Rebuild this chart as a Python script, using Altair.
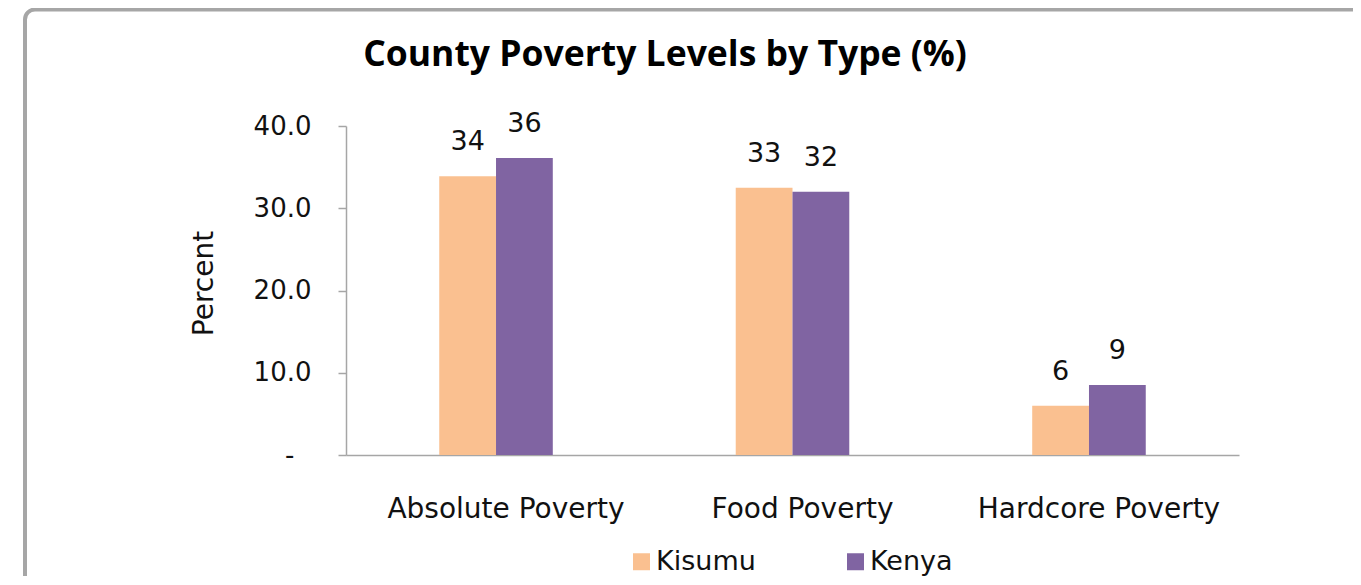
import altair as alt
import pandas as pd

categories = ["Absolute Poverty", "Food Poverty", "Hardcore Poverty"]
kisumu = [33.9, 32.5, 6.0]
kenya = [36.1, 32.0, 8.5]
series = ["Kisumu", "Kenya"]
colors = ["#FAC090", "#8064A2"]
y_ticks = [0, 10, 20, 30, 40]

rows = []
for c, a, b in zip(categories, kisumu, kenya):
    rows.append({"Category": c, "Region": "Kisumu", "value": a})
    rows.append({"Category": c, "Region": "Kenya", "value": b})
df = pd.DataFrame(rows)

FONT = "DejaVu Sans"
W, H = 893, 329

x_enc = alt.X(
    "Category:N",
    sort=categories,
    scale=alt.Scale(paddingInner=0.617, paddingOuter=0.3145),
    axis=alt.Axis(
        title=None, labelAngle=0, ticks=False, labelPadding=40, labelLimit=0,
        labelOffset=10,
        labelFontSize=28, labelFont=FONT, labelColor="#111111",
        domainColor="#A6A6A6", domainWidth=1.5,
    ),
)
xo_enc = alt.XOffset("Region:N", sort=series, scale=alt.Scale(paddingInner=0, paddingOuter=0))
y_enc = alt.Y(
    "value:Q",
    scale=alt.Scale(domain=[0, 40], nice=False),
    axis=alt.Axis(
        title="Percent", values=y_ticks, grid=False,
        labelExpr="datum.value == 0 ? '-' : format(datum.value, '.1f')",
        labelFontSize=26, labelFont=FONT, labelColor="#111111",
        labelPadding={"condition": {"test": "datum.value == 0", "value": 44}, "value": 27},
        tickSize=8, tickColor="#A6A6A6", tickWidth=1.5,
        domainColor="#A6A6A6", domainWidth=1.5,
        titleFont=FONT, titleFontSize=28, titleFontWeight="normal", titleColor="#111111",
        titleAngle=270, titleBaseline="alphabetic", titleAlign="center",
        titleX=-134, titleY=157,
    ),
)

bars = alt.Chart(df).mark_bar().encode(
    x=x_enc,
    xOffset=xo_enc,
    y=y_enc,
    color=alt.Color(
        "Region:N",
        sort=series,
        scale=alt.Scale(domain=series, range=colors),
        legend=alt.Legend(
            title=None, orient="none", legendX=282, legendY=422,
            direction="horizontal", symbolType="square", symbolSize=289,
            symbolStrokeWidth=0, labelFontSize=27, labelFont=FONT,
            labelColor="#111111", labelOffset=1, columnPadding=86, padding=0,
        ),
    ),
)

labels = alt.Chart(df).transform_calculate(
    label="round(datum.value)"
).mark_text(
    baseline="alphabetic", dy=-26, fontSize=27, font=FONT, color="#111111"
).encode(
    x=alt.X("Category:N", sort=categories),
    xOffset=alt.XOffset("Region:N", sort=series),
    y="value:Q",
    text=alt.Text("label:Q", format=".0f"),
)

frame = alt.Chart(alt.Data(values=[{}])).mark_rect(
    filled=False, stroke="#A6A6A6", strokeWidth=4, cornerRadius=10
).encode(
    x=alt.value(-321), x2=alt.value(1100), y=alt.value(-116.5), y2=alt.value(600)
)

chart = alt.layer(frame, bars, labels).properties(
    width=W, height=H,
    autosize=alt.AutoSizeParams(type="none"),
    padding={"left": 338, "top": 118, "right": 114, "bottom": 121},
    title=alt.TitleParams(
        "County Poverty Levels by Type (%)",
        font="Open Sans", fontSize=35.5, fontWeight="bold", color="#000000",
        anchor="middle", frame="group", dx=-127.5, offset=-93.5,
        baseline="alphabetic",
    ),
).configure_view(stroke=None)

chart.save("out.html", embed_options={"renderer": "svg", "actions": False})
